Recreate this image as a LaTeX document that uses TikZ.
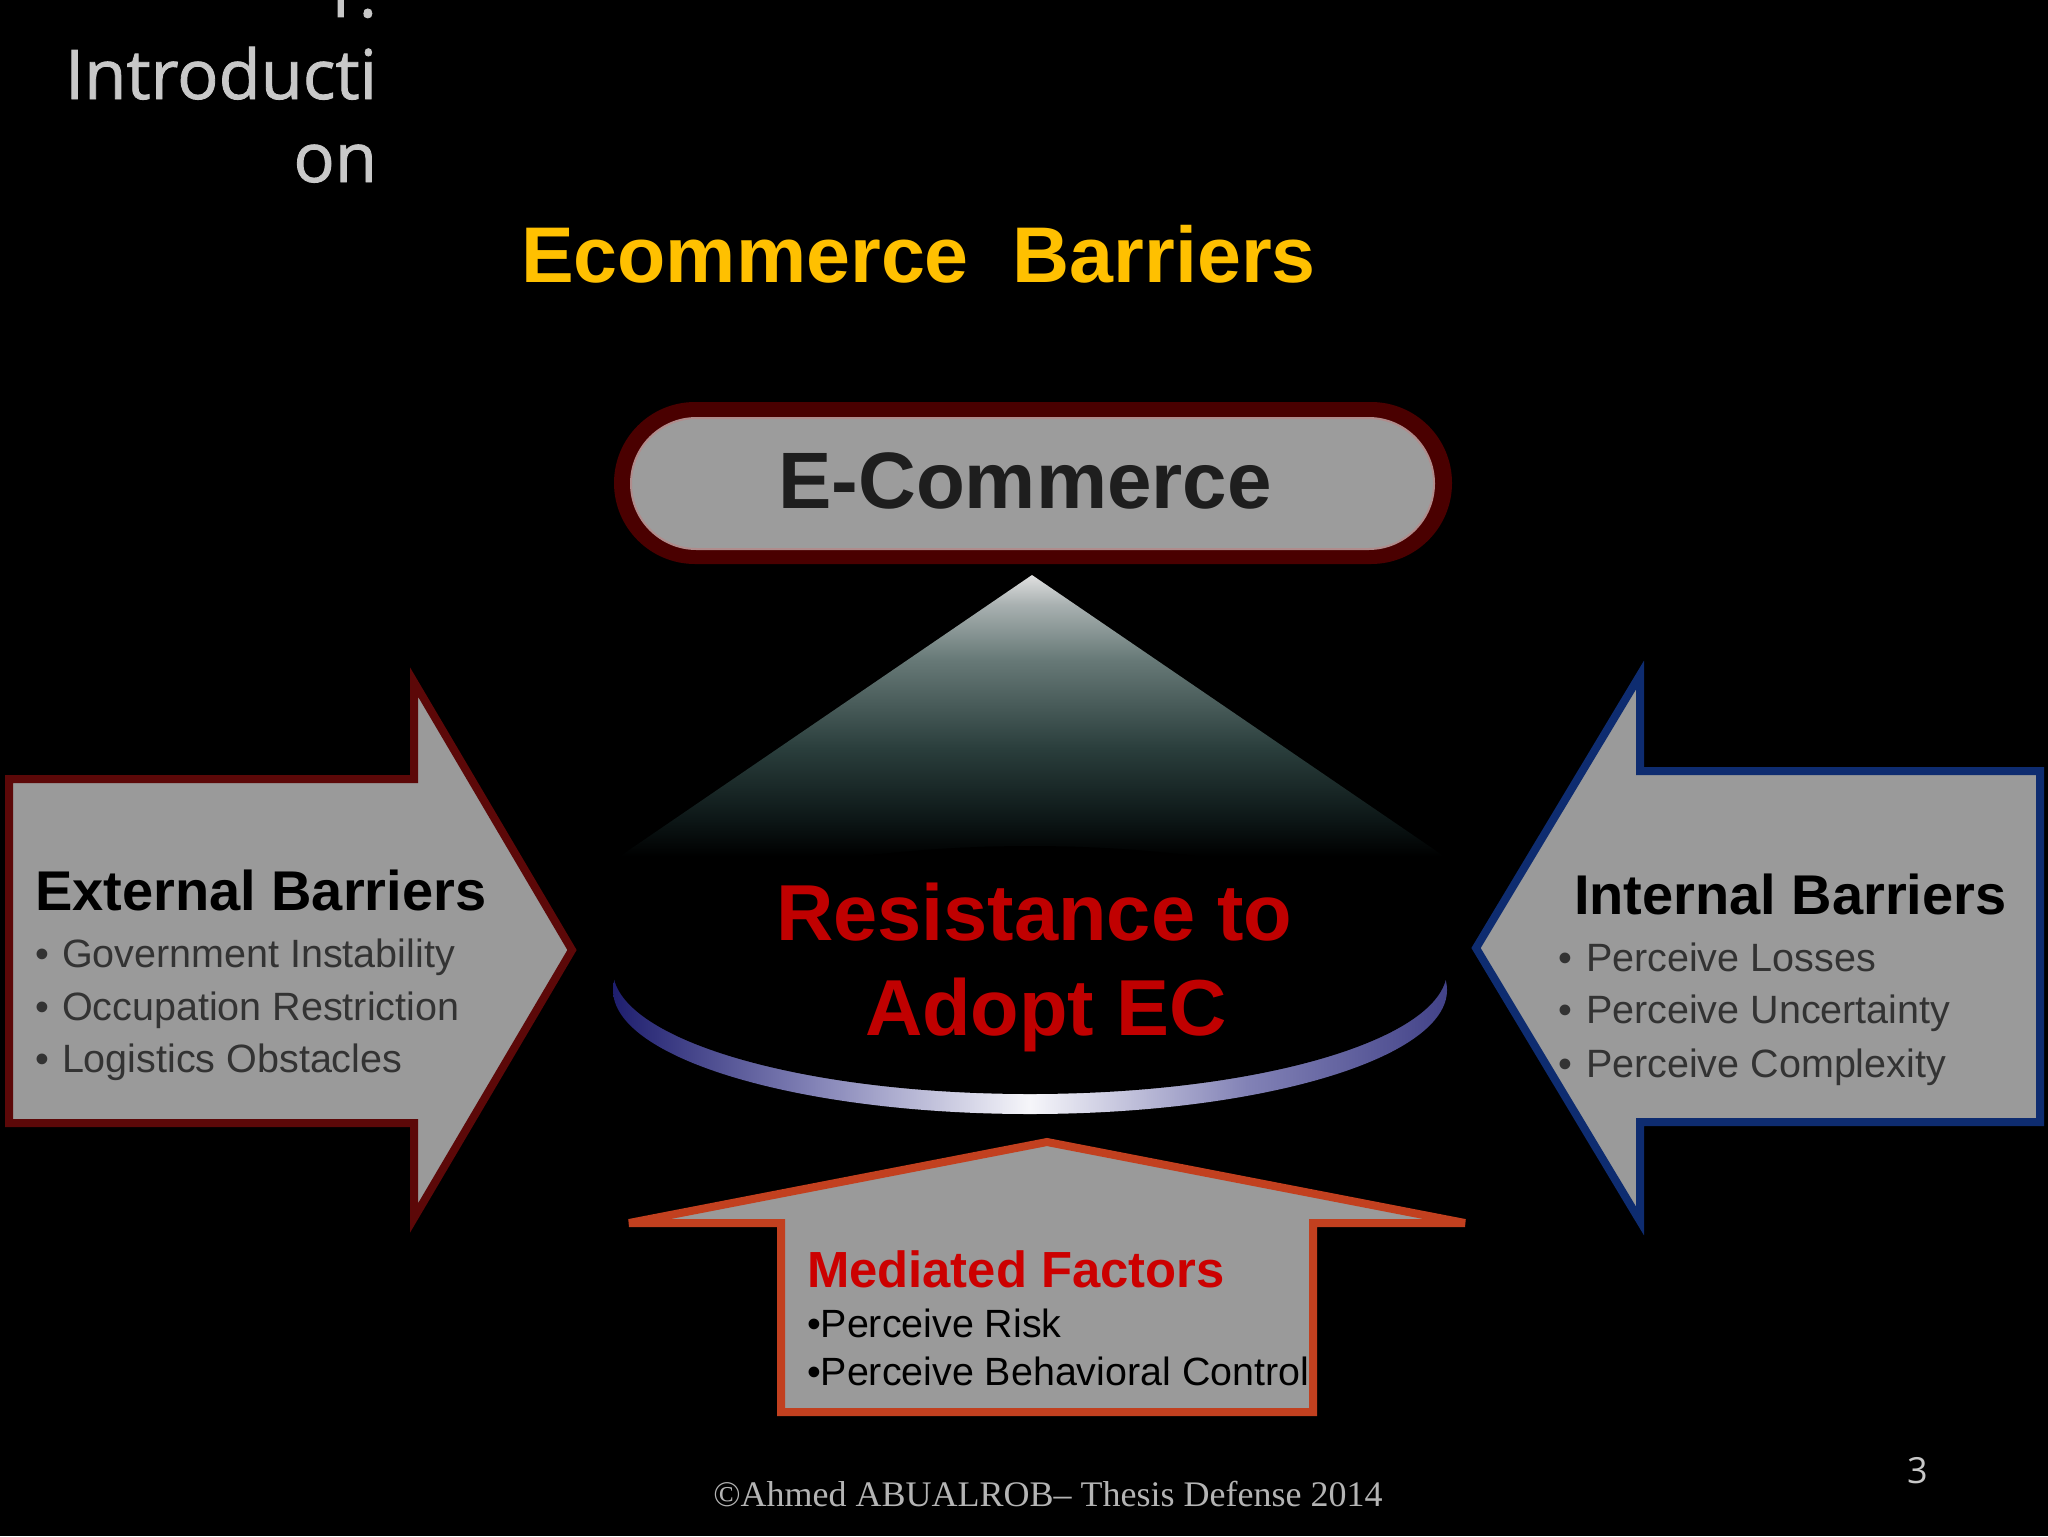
\documentclass[tikz,border=0pt]{standalone}
\usepackage{fontspec}
\setmainfont{Liberation Sans}
\newfontfamily\opensans{Open Sans}[FakeBold=1.2]
\newfontfamily\opensanslight{Open Sans}
\newfontfamily\serifft{Liberation Serif}

\definecolor{arrowgray}{RGB}{154,154,154}
\definecolor{pillgray}{RGB}{156,156,156}
\definecolor{pillred}{RGB}{74,0,0}
\definecolor{pillline}{RGB}{176,140,140}
\definecolor{extred}{RGB}{92,8,8}
\definecolor{intblue}{RGB}{14,44,112}
\definecolor{medred}{RGB}{194,64,31}
\definecolor{titleyellow}{RGB}{255,192,0}
\definecolor{resred}{RGB}{192,0,0}
\definecolor{medtxt}{RGB}{204,0,0}
\definecolor{ectxt}{RGB}{30,30,30}
\definecolor{bulletgray}{RGB}{51,51,51}
\definecolor{introgray}{RGB}{200,200,200}
\definecolor{footgray}{RGB}{180,180,180}
\definecolor{conea}{RGB}{12,22,22}
\definecolor{coneb}{RGB}{42,62,60}
\definecolor{conec}{RGB}{104,122,120}
\definecolor{coned}{RGB}{168,176,176}
\definecolor{conee}{RGB}{224,224,224}
\definecolor{rimblue}{RGB}{30,30,110}
\definecolor{rimmid}{RGB}{130,130,182}
\definecolor{rimwhite}{RGB}{246,246,250}
\definecolor{rimblueb}{RGB}{66,66,136}

\pgfdeclareverticalshading{conesh}{100bp}{color(0bp)=(black); color(28bp)=(black); color(34bp)=(conea); color(46bp)=(coneb); color(61bp)=(conec); color(70bp)=(coned); color(75bp)=(conee); color(100bp)=(conee)}
\pgfdeclarehorizontalshading{rimsh}{100bp}{color(0bp)=(rimblue); color(25bp)=(rimblue); color(37bp)=(rimmid); color(50bp)=(rimwhite); color(63bp)=(rimmid); color(75bp)=(rimblueb); color(100bp)=(rimblueb)}

\begin{document}
\begin{tikzpicture}[x=0.5pt,y=-0.5pt,
  txt/.style={inner sep=0pt, outer sep=0pt},
  introtxt/.style={txt, anchor=base east, text=introgray, font=\opensans\fontsize{34.3pt}{41pt}\selectfont},
  headtxt/.style={txt, anchor=base west, text=black, font=\fontsize{28pt}{34pt}\selectfont\bfseries},
  itemtxt/.style={txt, anchor=base west, text=bulletgray, font=\fontsize{19.75pt}{24pt}\selectfont},
  medtxtstyle/.style={txt, anchor=base west, text=black, font=\fontsize{19.7pt}{24pt}\selectfont},
  bigtxt/.style={txt, font=\fontsize{40pt}{48pt}\selectfont\bfseries},
  arrowshape/.style={fill=arrowgray, line width=4pt, line join=miter, miter limit=4}]
\useasboundingbox (0,0) rectangle (2048,1536);
\fill[black] (0,0) rectangle (2048,1536);

% section heading (cut at top)
\node[introtxt] (introA) at (377,17) {1.};
\node[introtxt] (introB) at (377,99) {Introducti};
\node[introtxt] (introC) at (377,182) {on};

% title
\node[txt, anchor=base west, text=titleyellow, font=\fontsize{39.5pt}{48pt}\selectfont\bfseries] (title) at (521,282) {Ecommerce\ \ Barriers};

% E-Commerce pill
\fill[pillred, rounded corners=40.5pt] (614,402) rectangle (1452,564);
\filldraw[fill=pillgray, draw=pillline, line width=1pt, rounded corners=32.75pt] (631,418) rectangle (1434,549);
\node[bigtxt, anchor=base, text=ectxt] (ecom) at (1025,508) {E-Commerce};

% cone and disk
\shade[shading=conesh] (1032,575) -- (594,874) -- (1470,874) -- cycle;
\shade[shading=rimsh] (1030,990) ellipse [x radius=417, y radius=124];
\fill[black] (1030,970) ellipse [x radius=417, y radius=124];
\node[txt, anchor=base west, text=resred, font=\fontsize{39.7pt}{48pt}\selectfont\bfseries] (res1) at (776,940) {Resistance to};
\node[txt, anchor=base west, text=resred, font=\fontsize{39.7pt}{48pt}\selectfont\bfseries] (res2) at (865,1035) {Adopt EC};

% external barriers arrow
\filldraw[arrowshape, draw=extred]
  (9,779) -- (414,779) -- (414,682) -- (572,950) -- (414,1218) -- (414,1123) -- (9,1123) -- cycle;
\node[headtxt] (extH) at (35,910) {External Barriers};
\node[itemtxt] (extB1) at (35,967) {•};
\node[itemtxt] (ext1) at (62,967) {Government Instability};
\node[itemtxt] (extB2) at (35,1020) {•};
\node[itemtxt] (ext2) at (62,1020) {Occupation Restriction};
\node[itemtxt] (extB3) at (35,1072) {•};
\node[itemtxt] (ext3) at (62,1072) {Logistics Obstacles};

% internal barriers arrow
\filldraw[arrowshape, draw=intblue]
  (2040,771) -- (1640,771) -- (1640,675) -- (1476,948) -- (1640,1221) -- (1640,1122) -- (2040,1122) -- cycle;
\node[headtxt] (intH) at (1574,914) {Internal Barriers};
\node[itemtxt] (intB1) at (1558,971) {•};
\node[itemtxt] (int1) at (1586,971) {Perceive Losses};
\node[itemtxt] (intB2) at (1558,1023) {•};
\node[itemtxt] (int2) at (1586,1023) {Perceive Uncertainty};
\node[itemtxt] (intB3) at (1558,1077) {•};
\node[itemtxt] (int3) at (1586,1077) {Perceive Complexity};

% mediated factors arrow
\filldraw[arrowshape, draw=medred]
  (781,1412) -- (781,1223) -- (629,1223) -- (1047,1142) -- (1465,1223) -- (1313,1223) -- (1313,1412) -- cycle;
\node[txt, anchor=base west, text=medtxt, font=\fontsize{25.4pt}{30pt}\selectfont\bfseries] (medH) at (807,1287) {Mediated Factors};
\node[medtxtstyle] (med1) at (807,1337) {•Perceive Risk};
\node[medtxtstyle] (med2) at (807,1385) {•Perceive Behavioral Control};

% footer
\node[txt, anchor=base, text=footgray, font=\serifft\fontsize{18pt}{22pt}\selectfont] (foot) at (1048,1506) {©Ahmed ABUALROB– Thesis Defense 2014};
\node[txt, anchor=base west, text=introgray, font=\opensanslight\fontsize{18pt}{22pt}\selectfont] (pnum) at (1907,1483) {3};
\end{tikzpicture}
\end{document}
